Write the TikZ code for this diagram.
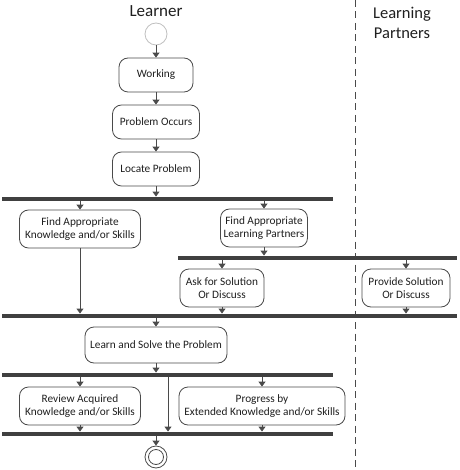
\documentclass[tikz,border=0pt]{standalone}
\usepackage{fontspec}
\setmainfont{Carlito}
\usetikzlibrary{positioning}
\usetikzlibrary{arrows.meta}
\definecolor{linegray}{HTML}{4A4A4A}
\definecolor{bargray}{HTML}{404040}
\definecolor{textgray}{HTML}{1F1F1F}
\newcommand\lanex{355}
\newcommand\mainx{156}
\tikzset{
    activity/.style = {draw=linegray, fill=white, rounded corners=9pt, line width=0.8pt,
        align=center, inner sep=0pt, text=textgray,
        font=\fontsize{11.3}{13.5}\selectfont},
    syncbar/.style = {fill=bargray, inner sep=0pt, minimum height=4.5pt},
    flow/.style = {draw=linegray, line width=0.9pt, -{Triangle[length=5pt,width=7pt]}},
}

\begin{document}
\begin{tikzpicture}[x=1pt,y=-1pt]
    \useasboundingbox (0,0) rectangle (459,470);
    % --- Swimlanes
    \draw[linegray, line width=1pt, dash pattern=on 7pt off 4.5pt] (\lanex,0) -- (\lanex,470);
    \node[text=textgray, font=\fontsize{17}{19}\selectfont] (learner) at (\mainx,11) {Learner};
    \node[text=textgray, align=center, font=\fontsize{16.5}{19.5}\selectfont] (partners) at (402,23) {Learning\\Partners};
    % --- Start
    \node[circle, draw=gray!50, line width=0.8pt, minimum size=22pt, inner sep=0pt] (start) at (\mainx,34) {};
    \node[activity, minimum width=74pt, minimum height=34pt] (working) at (\mainx,75) {Working};
    \node[activity, minimum width=87pt, minimum height=34pt] (occurs) at (\mainx,122) {Problem Occurs};
    \node[activity, minimum width=87pt, minimum height=34pt] (locate) at (\mainx,169) {Locate Problem};
    \draw[flow] (start) -- (working);
    \draw[flow] (working) -- (occurs);
    \draw[flow] (occurs) -- (locate);
    % --- First fork
    \node[syncbar, minimum width=331pt] (fork1) at (167.5,199) {};
    \draw[flow] (locate) -- (locate |- fork1.north);
    \node[activity, minimum width=121pt, minimum height=38pt] (knowledge) at (80,229) {Find Appropriate\\Knowledge and/or Skills};
    \node[activity, minimum width=87pt, minimum height=38pt] (findpartners) at (264,228) {Find Appropriate\\Learning Partners};
    \draw[flow] (fork1.south -| knowledge) -- (knowledge);
    \draw[flow] (fork1.south -| findpartners) -- (findpartners);
    % --- Second fork
    \node[syncbar, minimum width=279pt] (fork2) at (317.5,258) {};
    \draw[flow] (findpartners) -- (findpartners |- fork2.north);
    \node[activity, minimum width=84pt, minimum height=38pt] (ask) at (222,288) {Ask for Solution\\Or Discuss};
    \node[activity, minimum width=88pt, minimum height=38pt] (provide) at (406,288) {Provide Solution\\Or Discuss};
    \draw[flow] (fork2.south -| ask) -- (ask);
    \draw[flow] (fork2.south -| provide) -- (provide);
    % --- Join
    \node[syncbar, minimum width=455pt] (join1) at (229.5,316) {};
    \draw[flow] (knowledge) -- (knowledge |- join1.north);
    \draw[flow] (ask) -- (ask |- join1.north);
    \draw[flow] (provide) -- (provide |- join1.north);
    \node[activity, minimum width=142pt, minimum height=36pt] (solve) at (\mainx,345) {Learn and Solve the Problem};
    \draw[flow] (join1.south -| solve) -- (solve);
    % --- Last fork
    \node[syncbar, minimum width=331pt] (fork3) at (167.5,375) {};
    \draw[flow] (solve) -- (solve |- fork3.north);
    \node[activity, minimum width=121pt, minimum height=38pt] (review) at (80,406) {Review Acquired\\Knowledge and/or Skills};
    \node[activity, minimum width=166pt, minimum height=38pt] (progress) at (262,406) {Progress by\\Extended Knowledge and/or Skills};
    \coordinate (skip) at (168,405);
    \draw[flow] (fork3.south -| review) -- (review);
    \draw[flow] (fork3.south -| progress) -- (progress);
    \node[syncbar, minimum width=331pt] (join2) at (167.5,434) {};
    \draw[flow] (review) -- (review |- join2.north);
    \draw[flow] (progress) -- (progress |- join2.north);
    \draw[flow] (fork3.south -| skip) -- (skip |- join2.north);
    % --- End
    \node[circle, draw=linegray, line width=0.8pt, minimum size=22pt, inner sep=0pt] (finish) at (\mainx,457) {};
    \draw[linegray, line width=0.8pt] (finish.center) circle [radius=7.5pt];
    \draw[flow] (join2.south -| finish) -- (finish);
\end{tikzpicture}
\end{document}
